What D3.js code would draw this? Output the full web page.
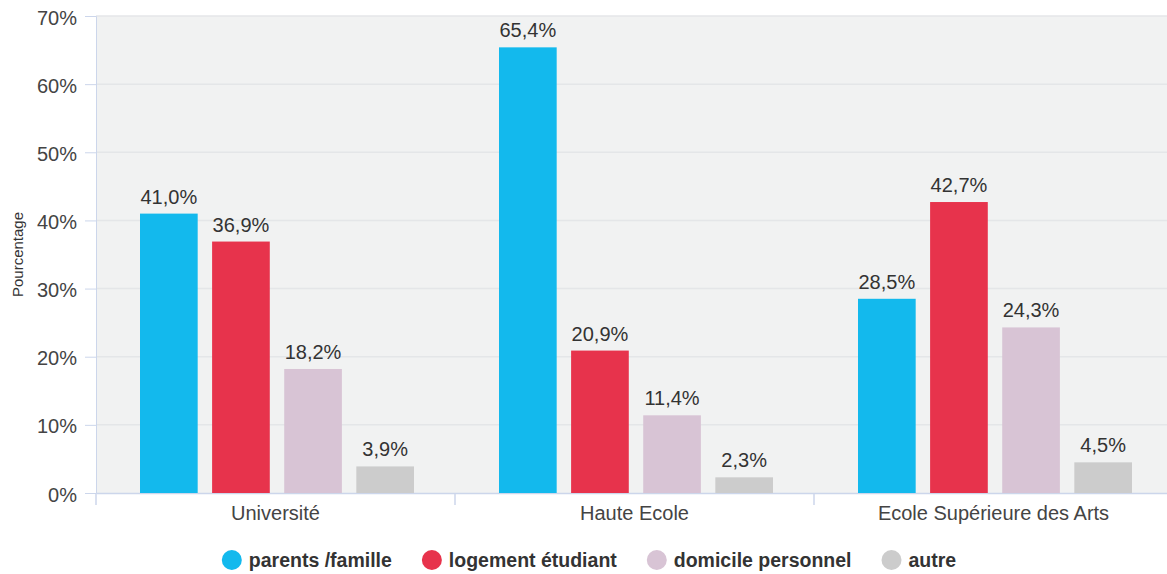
<!DOCTYPE html>
<html>
<head>
<meta charset="utf-8">
<script src="https://cdn.jsdelivr.net/npm/d3@7"></script>
<style>
  body { margin: 0; background: #fff; }
  svg { display: block; font-family: "Liberation Sans", Arial, sans-serif; }
</style>
</head>
<body>
<svg id="chart" width="1167" height="574"></svg>
<script>
// donnees
var categories = ["Université", "Haute Ecole", "Ecole Supérieure des Arts"];
var series = ["parents /famille", "logement étudiant", "domicile personnel", "autre"];
var couleurs = ["#13b9ed", "#e7334c", "#d8c4d5", "#cccccc"];
var parentsFamille = [41.0, 65.4, 28.5];
var logementEtudiant = [36.9, 20.9, 42.7];
var domicilePerso = [18.2, 11.4, 24.3];
var autre = [3.9, 2.3, 4.5];
var yTicks = [0, 10, 20, 30, 40, 50, 60, 70];

var valeurs = [parentsFamille, logementEtudiant, domicilePerso, autre];

var svg = d3.select("#chart");
var gauche = 96, droite = 1173, haut = 16, bas = 493;

var x0 = d3.scaleBand().domain(categories).range([gauche, droite]);
var x1 = d3.scaleBand().domain(series).range([44, 318]).paddingInner(0.2);
var y = d3.scaleLinear().domain([0, 70]).range([bas, haut]);

// fond
svg.append("rect")
    .attr("x", gauche).attr("y", haut)
    .attr("width", droite - gauche).attr("height", bas - haut)
    .attr("fill", "#f1f2f2");

// grille
svg.selectAll(".grid").data(yTicks.slice(1)).enter()
    .append("line")
    .attr("x1", gauche).attr("x2", droite)
    .attr("y1", function(d){ return y(d); })
    .attr("y2", function(d){ return y(d); })
    .attr("stroke", "#e4e6e8").attr("stroke-width", 1.5);

// axe y
var axeY = svg.append("g").attr("transform", "translate(" + gauche + ",0)")
    .call(d3.axisLeft(y).tickValues(yTicks).tickSize(11).tickPadding(8)
        .tickFormat(function(d){ return d + "%"; }));
axeY.select(".domain").attr("stroke", "#ccd6eb");
axeY.selectAll(".tick line").attr("stroke", "#ccd6eb");
axeY.selectAll(".tick text")
    .attr("font-size", 20).attr("fill", "#444")
    .attr("font-family", "Liberation Sans, Arial, sans-serif")
    .attr("dy", "0.4em");

// axe x
var axeX = svg.append("g").attr("transform", "translate(0," + bas + ")")
    .call(d3.axisBottom(x0).tickSize(0).tickPadding(13));
axeX.select(".domain").attr("stroke", "#ccd6eb").attr("stroke-width", 1.5);
axeX.selectAll(".tick text")
    .attr("font-size", 20).attr("fill", "#444")
    .attr("font-family", "Liberation Sans, Arial, sans-serif");
svg.selectAll(".sep").data(categories).enter()
    .append("line")
    .attr("x1", function(d){ return x0(d); })
    .attr("x2", function(d){ return x0(d); })
    .attr("y1", bas).attr("y2", bas + 12)
    .attr("stroke", "#ccd6eb").attr("stroke-width", 1.5);

// barres
var groupes = svg.selectAll(".groupe").data(categories).enter()
    .append("g")
    .attr("transform", function(d){ return "translate(" + x0(d) + ",0)"; });

groupes.each(function(cat, ci){
    var g = d3.select(this);
    series.forEach(function(s, si){
        var v = valeurs[si][ci];
        g.append("rect")
            .attr("x", x1(s)).attr("y", y(v))
            .attr("width", x1.bandwidth()).attr("height", bas - y(v))
            .attr("fill", couleurs[si]);
        g.append("text")
            .attr("x", x1(s) + x1.bandwidth() / 2).attr("y", y(v) - 10)
            .attr("text-anchor", "middle")
            .attr("font-size", 20).attr("fill", "#333")
            .text(v.toFixed(1).replace(".", ",") + "%");
    });
});

// titre axe y
svg.append("text")
    .attr("transform", "translate(23," + ((haut + bas) / 2) + ") rotate(-90)")
    .attr("text-anchor", "middle")
    .attr("font-size", 15).attr("fill", "#333")
    .text("Pourcentage");

// legende
var leg = svg.append("g");
var posX = 0;
series.forEach(function(s, i){
    var item = leg.append("g").attr("transform", "translate(" + posX + ",0)");
    item.append("circle").attr("cx", 10).attr("cy", 560).attr("r", 10).attr("fill", couleurs[i]);
    var t = item.append("text").attr("x", 27).attr("y", 567)
        .attr("font-size", 19.5).attr("font-weight", "bold").attr("fill", "#333")
        .text(s);
    posX += 27 + t.node().getComputedTextLength() + 30;
});
var largeur = posX - 30;
leg.attr("transform", "translate(" + (589 - largeur / 2) + ",0)");
</script>
</body>
</html>
